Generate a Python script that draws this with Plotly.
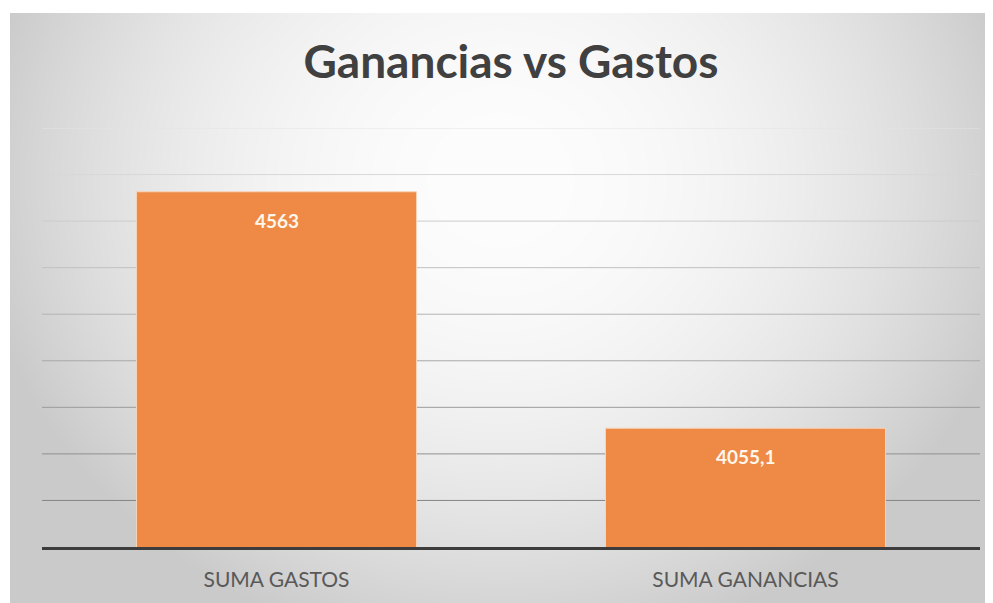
import base64, struct, zlib
import numpy as np
import plotly.graph_objects as go

# ---- data ----
categories = ["SUMA GASTOS", "SUMA GANANCIAS"]
values = [4563, 4055.1]
value_labels = ["4563", "4055,1"]
grid_values = [3900, 4000, 4100, 4200, 4300, 4400, 4500, 4600, 4700]
y_min, y_max = 3800, 4700

# page body has an 8px margin; layout is expressed in figure coords
OFF = 8
FW, FH = 993, 603

# ---- background gradient (style only) ----
BX, BY = 10 - OFF, 13 - OFF
W, H = FW - BX, FH - BY
xx, yy = np.meshgrid(np.arange(W) + 10, np.arange(H) + 13)
d = np.sqrt(((xx - 500) / 530.0) ** 2 + ((yy - 180) / 480.0) ** 2)
d = np.clip(d, 0, 1)
g = (253 - (253 - 202) * d ** 2).astype(np.uint8)
raw = b"".join(b"\x00" + g[r].tobytes() for r in range(H))
def chunk(t, data):
    c = struct.pack(">I", len(data)) + t + data
    return c + struct.pack(">I", zlib.crc32(t + data) & 0xffffffff)
png = (b"\x89PNG\r\n\x1a\n" + chunk(b"IHDR", struct.pack(">IIBBBBB", W, H, 8, 0, 0, 0, 0))
       + chunk(b"IDAT", zlib.compress(raw, 9)) + chunk(b"IEND", b""))
src = "data:image/png;base64," + base64.b64encode(png).decode()

ML = 42 - OFF
MT = 128 - OFF
MR = FW - (980 - OFF)
MB = FH - (547 - OFF)
PW, PH = FW - ML - MR, FH - MT - MB

fig = go.Figure()
fig.add_trace(go.Bar(
    x=categories, y=values,
    marker=dict(color="#EE8A46", line=dict(color="#F8D3B6", width=1)),
    hoverinfo="x+y",
))

# gridlines: progressively darker towards the bottom
shapes = []
for gv in grid_values:
    t = (gv - y_min) / (y_max - y_min)
    c = int(120 + (228 - 120) * t)
    shapes.append(dict(type="line", xref="paper", yref="y", x0=0, x1=1, y0=gv, y1=gv,
                       line=dict(color=f"rgb({c},{c},{c})", width=1), layer="below"))

annotations = []
for cat, v, lab in zip(categories, values, value_labels):
    annotations.append(dict(x=cat, y=v, xref="x", yref="y", text=lab, showarrow=False,
                            yanchor="top", yshift=-15,
                            font=dict(family="Lato", size=19, color="#FFF6EC", weight="bold")))

fig.update_layout(
    width=FW, height=FH,
    margin=dict(l=ML, r=MR, t=MT, b=MB),
    paper_bgcolor="white",
    plot_bgcolor="rgba(0,0,0,0)",
    images=[dict(source=src, xref="paper", yref="paper",
                 x=(BX - ML) / PW, y=(FH - MB - BY) / PH,
                 sizex=W / PW, sizey=H / PH, sizing="stretch",
                 xanchor="left", yanchor="top", layer="below")],
    shapes=shapes,
    annotations=annotations,
    title=dict(text="Ganancias vs Gastos", x=0.5, xref="paper", xanchor="center",
               y=1 - (63 - OFF - 1) / FH, yref="container", yanchor="middle",
               font=dict(family="Lato", size=46, color="#404040", weight="bold")),
    bargap=0.403,
    showlegend=False,
    xaxis=dict(showline=True, linecolor="#3C3C3C", linewidth=3, showgrid=False,
               ticks="", tickfont=dict(family="Lato", size=21, color="#595959"),
               ticklabelstandoff=12),
    yaxis=dict(range=[y_min, y_max], showgrid=False, showticklabels=False,
               zeroline=False, showline=False, ticks=""),
)

fig.write_html("out.html")
